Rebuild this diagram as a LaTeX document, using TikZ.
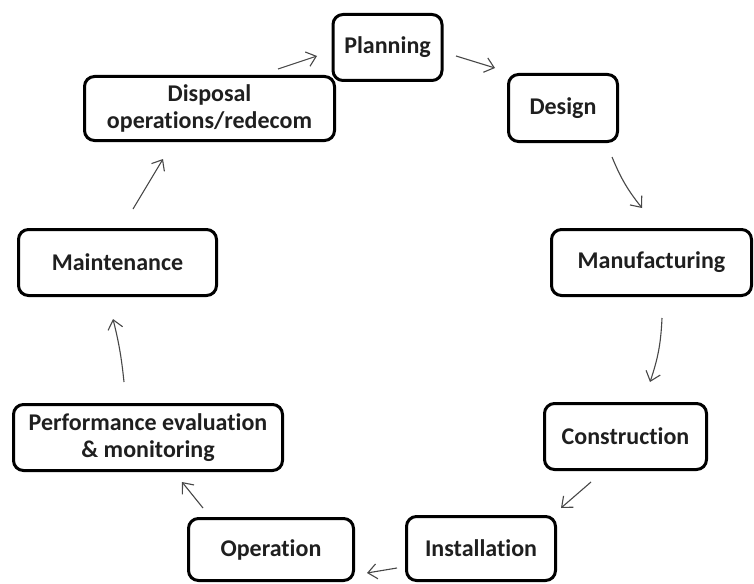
\documentclass[tikz,border=0pt]{standalone}
\usepackage{fontspec}
\setmainfont{Carlito}[Ligatures=NoCommon]
\usetikzlibrary{arrows.meta}
\begin{document}
\begin{tikzpicture}[x=1pt,y=-1pt,
  stage/.style={draw=black, line width=3pt, rounded corners=10pt, align=center,
    font=\fontsize{24}{27}\selectfont\bfseries, text=black!88, inner sep=0pt},
  flow/.style={draw=black!72, line width=1.1pt,
    -{Straight Barb[length=9pt,width=15pt,line width=1.1pt]}}]
\useasboundingbox (0,0) rectangle (754,583);

% life-cycle stages
\node[stage, minimum width=109pt, minimum height=66pt] (plan)    at (387.5,47.5)  {Planning};
\node[stage, minimum width=109pt, minimum height=67pt] (design)  at (563,108)     {Design};
\node[stage, minimum width=200pt, minimum height=66pt] (manu)    at (651.5,262.5) {Manufacturing};
\node[stage, minimum width=162pt, minimum height=66pt] (constr)  at (625.5,436.5) {Construction};
\node[stage, minimum width=149pt, minimum height=64pt] (install) at (481,548.5)   {Installation};
\node[stage, minimum width=165pt, minimum height=62pt] (oper)    at (271,549.5)   {Operation};
\node[stage, minimum width=269pt, minimum height=66pt] (perf)    at (148,437.5)   {Performance evaluation\\\& monitoring};
\node[stage, minimum width=198pt, minimum height=66pt] (maint)   at (117.5,262.5) {Maintenance};
\node[stage, minimum width=250pt, minimum height=64pt] (disp)    at (209.5,108.5) {Disposal\\operations/redecom};

% loose ends of the cycle arrows
\coordinate (a1s) at (278,69);  \coordinate (a1e) at (317,56);
\coordinate (a2s) at (456,56);  \coordinate (a2e) at (495,68);
\coordinate (a3s) at (612,157); \coordinate (a3e) at (642,208);
\coordinate (a4s) at (662,318); \coordinate (a4e) at (650,382);
\coordinate (a5s) at (591,482); \coordinate (a5e) at (561,508);
\coordinate (a6s) at (397,568); \coordinate (a6e) at (367,573);
\coordinate (a7s) at (203,508); \coordinate (a7e) at (182,482);
\coordinate (a8s) at (124,382); \coordinate (a8e) at (113,319);
\coordinate (a9s) at (133,209); \coordinate (a9e) at (163,159);

% cycle arrows
\draw[flow] (a1s) -- (a1e);
\draw[flow] (a2s) -- (a2e);
\draw[flow] (a3s) to[bend right=8] (a3e);
\draw[flow] (a4s) to[bend left=8] (a4e);
\draw[flow] (a5s) -- (a5e);
\draw[flow] (a6s) -- (a6e);
\draw[flow] (a7s) -- (a7e);
\draw[flow] (a8s) to[bend right=4] (a8e);
\draw[flow] (a9s) -- (a9e);
\end{tikzpicture}
\end{document}
